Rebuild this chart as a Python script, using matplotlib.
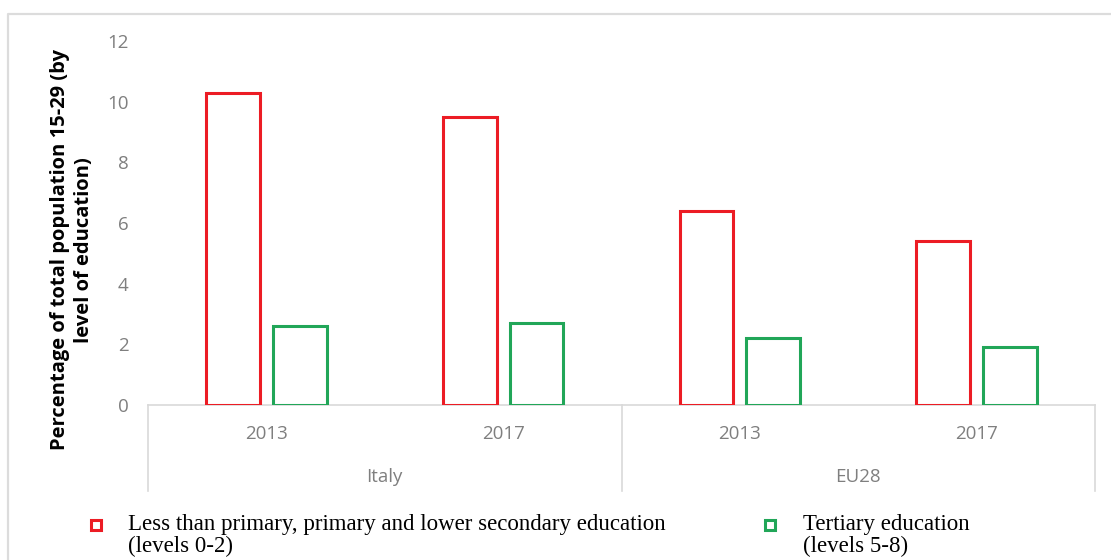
import matplotlib
matplotlib.use("Agg")
import matplotlib.pyplot as plt
from matplotlib.lines import Line2D
from matplotlib.transforms import blended_transform_factory
import numpy as np

# Data
countries = ["Italy", "EU28"]
years = ["2013", "2017"]
low_education = [10.3, 9.5, 6.4, 5.4]   # Italy 2013, Italy 2017, EU28 2013, EU28 2017
tertiary_education = [2.6, 2.7, 2.2, 1.9]
series_labels = [
    ["Less than primary, primary and lower secondary education", "(levels 0-2)"],
    ["Tertiary education", "(levels 5-8)"],
]
y_ticks = [0, 2, 4, 6, 8, 10, 12]
y_label = "Percentage of total population 15-29 (by\nlevel of education)"

RED = "#ec1c24"
GREEN = "#21a658"
GRID = "#d9d9d9"
TICK = "#7f7f7f"

W, H = 1111, 560
fig = plt.figure(figsize=(W / 100, H / 100), dpi=100)
fig.patch.set_facecolor("white")

def fx(px):
    return px / W

def fy(py):
    return 1 - py / H

AX_L, AX_R, AX_T, AX_B = 148, 1095, 41, 405
ax = fig.add_axes([fx(AX_L), fy(AX_B), fx(AX_R) - fx(AX_L), fy(AX_T) - fy(AX_B)])
ax_h = AX_B - AX_T

x = np.arange(len(countries) * len(years))
width = 0.228
offset = 0.141
ax.bar(x - offset, low_education, width, facecolor="white", edgecolor=RED, linewidth=2.2, zorder=3)
ax.bar(x + offset, tertiary_education, width, facecolor="white", edgecolor=GREEN, linewidth=2.2, zorder=3)

ax.set_xlim(-0.5, len(x) - 0.5)
ax.set_ylim(0, 12)
ax.set_yticks(y_ticks)
ax.tick_params(axis="y", length=0, pad=14, labelsize=13.5, labelcolor=TICK)
for lbl in ax.get_yticklabels():
    lbl.set_fontfamily("Open Sans")
for s in ax.spines.values():
    s.set_visible(False)

# Category axis: baseline, separators, year and country labels
ax.set_xticks(x)
ax.set_xticklabels([])
ax.tick_params(axis="x", length=0)
trans = blended_transform_factory(ax.transData, ax.transAxes)
ax.plot([-0.5, len(x) - 0.5], [0, 0], transform=trans, color=GRID, lw=1.2, clip_on=False, zorder=1)
sep_bottom = -(491 - AX_B) / ax_h
for sx in [-0.5, 1.5, 3.5]:
    ax.plot([sx, sx], [0, sep_bottom], transform=trans, color=GRID, lw=1.2, clip_on=False)
for xi, yr in zip(x, years * len(countries)):
    ax.text(xi, -(434 - AX_B) / ax_h, yr, transform=trans, ha="center", va="center",
            fontfamily="Open Sans", fontsize=13.5, color=TICK)
for i, c in enumerate(countries):
    cx = i * len(years) + (len(years) - 1) / 2
    ax.text(cx, -(477 - AX_B) / ax_h, c, transform=trans, ha="center", va="center",
            fontfamily="Open Sans", fontsize=13.5, color=TICK)

# Axis title
fig.text(fx(72), fy(250), y_label, rotation=90, ha="center", va="center",
         fontfamily="Open Sans", fontweight="bold", fontsize=14.5, color="black",
         multialignment="center", linespacing=1.2)

# Legend
for (mx, tx, color, lines) in [(96, 128, RED, series_labels[0]), (770, 803, GREEN, series_labels[1])]:
    fig.add_artist(Line2D([fx(mx)], [fy(525)], marker="s", markersize=6.5,
                          markerfacecolor="white", markeredgecolor=color, markeredgewidth=2.2,
                          linestyle="none", transform=fig.transFigure))
    for k, line in enumerate(lines):
        fig.text(fx(tx), fy(530 + 22 * k), line, ha="left", va="baseline",
                 fontfamily="Liberation Serif", fontsize=16.5, color="black")

# Chart frame
fig.add_artist(Line2D([fx(8), fx(8), fx(W)], [0, fy(14), fy(14)], color="#dcdcdc", lw=1.6,
                      transform=fig.transFigure))

fig.savefig("out.png", dpi=100, facecolor="white")
